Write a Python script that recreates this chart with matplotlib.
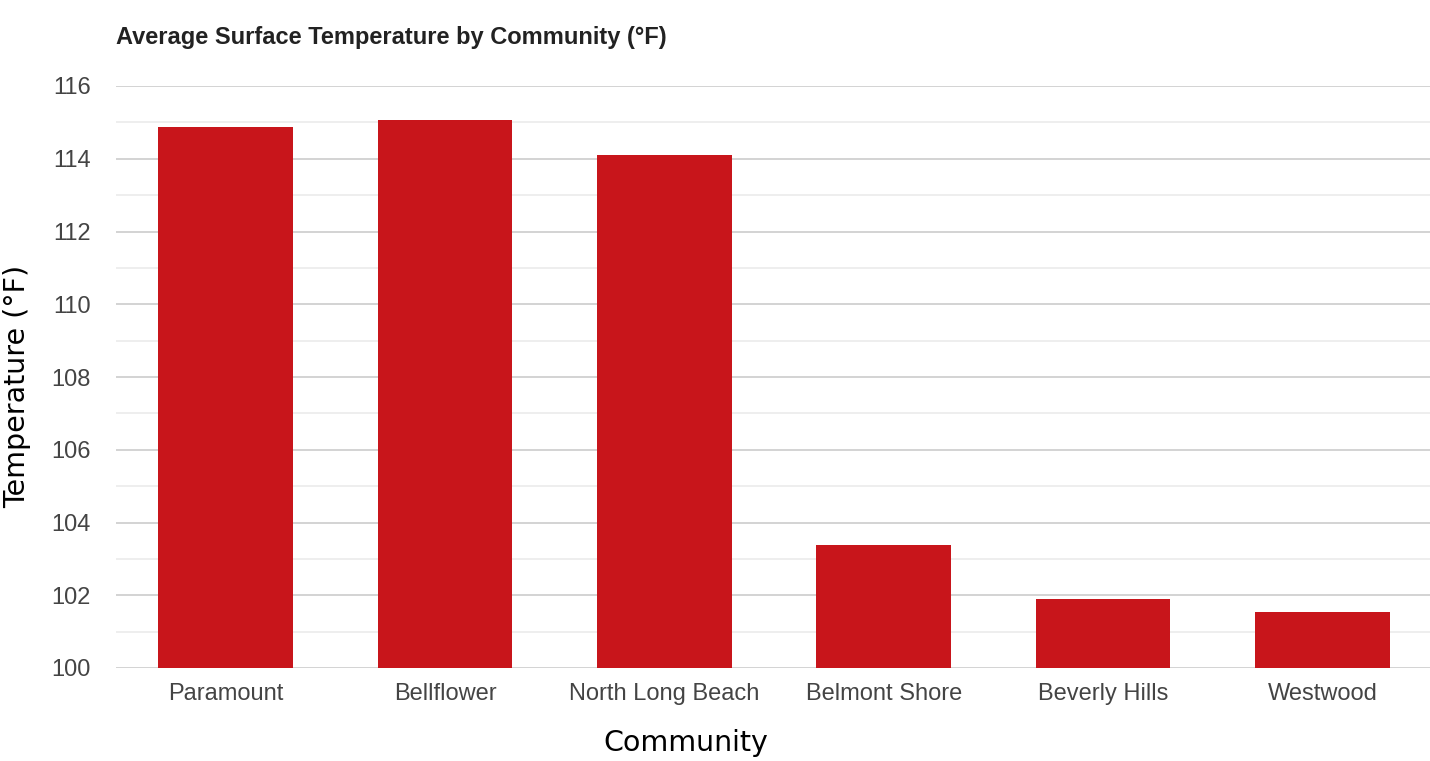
import matplotlib
matplotlib.use("Agg")
import matplotlib.pyplot as plt
from matplotlib.ticker import MultipleLocator

communities = ["Paramount", "Bellflower", "North Long Beach",
               "Belmont Shore", "Beverly Hills", "Westwood"]
temps = [114.88, 115.06, 114.11, 103.37, 101.9, 101.55]

y_min, y_max = 100, 116
bar_color = "#c8151b"


def main():
    fig = plt.figure(figsize=(14.3, 7.61), dpi=100)
    ax = fig.add_axes([116 / 1430, 93 / 761, 1316 / 1430, 582 / 761])

    x = range(len(communities))
    ax.bar(x, temps, width=0.615, color=bar_color, zorder=3)

    ax.set_xlim(-0.5, len(communities) - 0.5)
    ax.set_ylim(y_min, y_max)
    ax.yaxis.set_major_locator(MultipleLocator(2))
    ax.yaxis.set_minor_locator(MultipleLocator(1))
    ax.grid(axis="y", which="major", color="#cccccc", linewidth=1.2, zorder=0)
    ax.grid(axis="y", which="minor", color="#ebebeb", linewidth=1.2, zorder=0)

    for s in ax.spines.values():
        s.set_visible(False)

    ax.set_xticks(list(x))
    ax.set_xticklabels(communities)
    ax.tick_params(axis="both", which="both", length=0)
    ax.tick_params(axis="x", pad=11, labelsize=17, labelcolor="#444444")
    ax.tick_params(axis="y", pad=18, labelsize=17, labelcolor="#444444")
    for lbl in ax.get_xticklabels() + ax.get_yticklabels():
        lbl.set_family("Liberation Sans")

    ax.set_xlabel("Community", fontsize=20.5, family="DejaVu Sans")
    ax.set_ylabel("Temperature (°F)", fontsize=20.5, family="DejaVu Sans")
    # labels sit off-centre in the original
    ax.xaxis.set_label_coords(0.433, -0.129, transform=ax.transAxes)
    ax.yaxis.set_label_coords(-0.0752, 0.4845, transform=ax.transAxes)
    ax.xaxis.label.set_va("center")
    ax.yaxis.label.set_va("center")

    fig.text(116 / 1430, 1 - 44 / 761, "Average Surface Temperature by Community (°F)",
             fontsize=17, fontweight="bold", family="Liberation Sans",
             color="#222222", ha="left", va="baseline")

    fig.savefig("out.png", dpi=100)


if __name__ == "__main__":
    main()
